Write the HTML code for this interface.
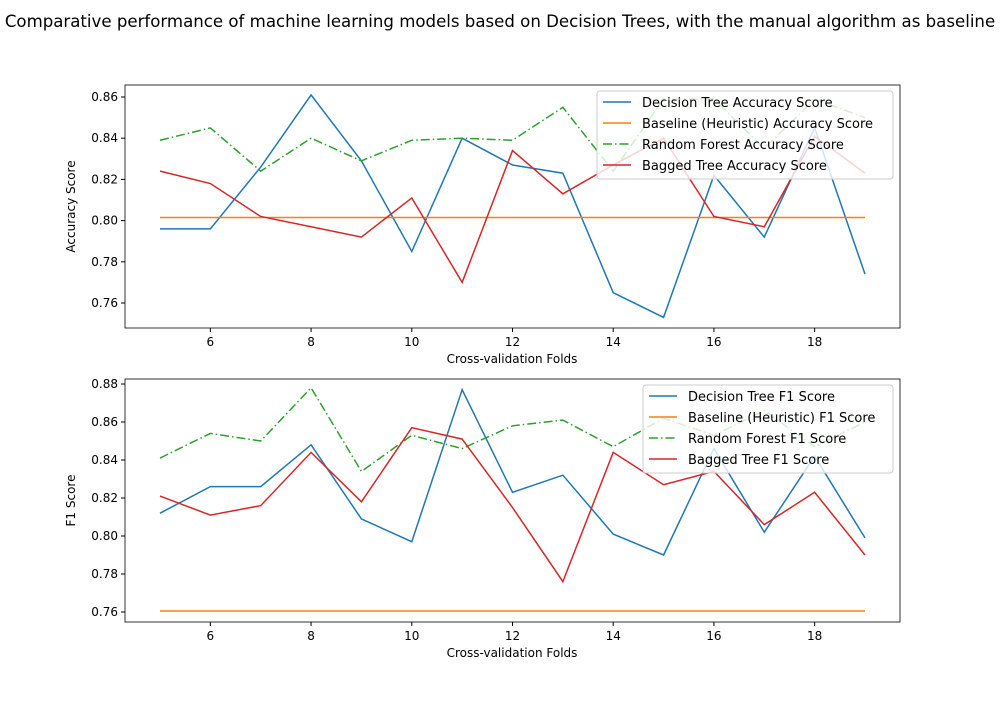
<!DOCTYPE html>
<html><head><meta charset="utf-8"><style>
body{margin:0;background:#fff;font-family:"Liberation Sans","DejaVu Sans",sans-serif}
svg text{font-family:"DejaVu Sans","Liberation Sans",sans-serif}
</style></head><body>
<svg id="c" width="1000" height="700" xmlns="http://www.w3.org/2000/svg">
<text x="500" y="27" text-anchor="middle" font-size="16.6">Comparative performance of machine learning models based on Decision Trees, with the manual algorithm as baseline</text>
</svg>
<script>
const folds=[5,6,7,8,9,10,11,12,13,14,15,16,17,18,19];
const dtAcc=[.796,.796,.826,.861,.829,.785,.840,.827,.823,.765,.753,.822,.792,.845,.774];
const baseAcc=[.8015,.8015,.8015,.8015,.8015,.8015,.8015,.8015,.8015,.8015,.8015,.8015,.8015,.8015,.8015];
const rfAcc=[.839,.845,.824,.840,.829,.839,.840,.839,.855,.824,.859,.859,.835,.859,.850];
const bagAcc=[.824,.818,.802,.797,.792,.811,.770,.834,.813,.827,.840,.802,.797,.841,.823];
const dtF1=[.812,.826,.826,.848,.809,.797,.877,.823,.832,.801,.790,.846,.802,.842,.799];
const baseF1=[.7605,.7605,.7605,.7605,.7605,.7605,.7605,.7605,.7605,.7605,.7605,.7605,.7605,.7605,.7605];
const rfF1=[.841,.854,.850,.878,.834,.853,.846,.858,.861,.847,.862,.853,.866,.847,.860];
const bagF1=[.821,.811,.816,.844,.818,.857,.851,.815,.776,.844,.827,.834,.806,.823,.790];
const xTicks=[6,8,10,12,14,16,18];
const yTicksTop=[.76,.78,.80,.82,.84,.86];
const yTicksBot=[.76,.78,.80,.82,.84,.86,.88];
const colors=['#1f77b4','#ff7f0e','#2ca02c','#d62728'];
const NS='http://www.w3.org/2000/svg';
const svg=document.getElementById('c');
function mk(t,a,p){const e=document.createElementNS(NS,t);for(const k in a)e.setAttribute(k,a[k]);(p||svg).appendChild(e);return e;}
function panel(cfg){
  const L=125,R=900,T=cfg.top,B=cfg.top+243;
  const X=v=>160+(v-5)*(705/14);
  const Y=v=>cfg.y0px+(cfg.y0-v)*cfg.ppu;
  const g=mk('g',{});
  
  
  xTicks.forEach(t=>{mk('line',{x1:X(t),x2:X(t),y1:B,y2:B+4,stroke:'#000'},g);
    const tx=mk('text',{x:X(t),y:B+18,'text-anchor':'middle','font-size':12},g);tx.textContent=t;
    });
  cfg.yt.forEach(t=>{mk('line',{x1:L-4,x2:L,y1:Y(t),y2:Y(t),stroke:'#000'},g);
    const tx=mk('text',{x:L-7,y:Y(t)+4,'text-anchor':'end','font-size':12},g);tx.textContent=t.toFixed(2);
    });
  cfg.series.forEach((s,i)=>{
    const p=mk('polyline',{points:folds.map((f,j)=>X(f)+','+Y(s[j])).join(' '),fill:'none',stroke:colors[i],'stroke-width':1.5,'stroke-dasharray':i==2?'9,3,1.5,3':'none'},g);
    
    
  });
  mk('rect',{x:L,y:T,width:R-L,height:B-T,fill:'none',stroke:'#000','stroke-width':0.8},g);
  const xl=mk('text',{x:512,y:B+35,'text-anchor':'middle','font-size':12},g);xl.textContent='Cross-validation Folds';
  
  const yl=mk('text',{x:75,y:(T+B)/2,'text-anchor':'middle','font-size':12,transform:`rotate(-90 75 ${(T+B)/2})`},g);yl.textContent=cfg.ylabel;
  
  const lg=mk('g',{},g);
  
  mk('rect',{x:cfg.lx,y:T+6,width:893-cfg.lx,height:88,rx:3,fill:'#fff','fill-opacity':0.8,stroke:'#ccc'},lg);
  cfg.labels.forEach((lab,i)=>{
    const yy=T+17+i*21;
    mk('line',{x1:cfg.lx+6,x2:cfg.lx+34,y1:yy,y2:yy,stroke:colors[i],'stroke-width':1.5,'stroke-dasharray':i==2?'9,3,1.5,3':'none'},lg);
    const t=mk('text',{x:cfg.lx+45,y:yy+5,'font-size':13},lg);t.textContent=lab;
    
  });
}
panel({name:'accuracy-panel',top:85,y0:.86,y0px:97,ppu:2060,yt:yTicksTop,ylabel:'Accuracy Score',lx:597,
 series:[dtAcc,baseAcc,rfAcc,bagAcc],labels:['Decision Tree Accuracy Score','Baseline (Heuristic) Accuracy Score','Random Forest Accuracy Score','Bagged Tree Accuracy Score']});
panel({name:'f1-panel',top:379,y0:.88,y0px:384,ppu:1900,yt:yTicksBot,ylabel:'F1 Score',lx:643,
 series:[dtF1,baseF1,rfF1,bagF1],labels:['Decision Tree F1 Score','Baseline (Heuristic) F1 Score','Random Forest F1 Score','Bagged Tree F1 Score']});
</script>
</body></html>
